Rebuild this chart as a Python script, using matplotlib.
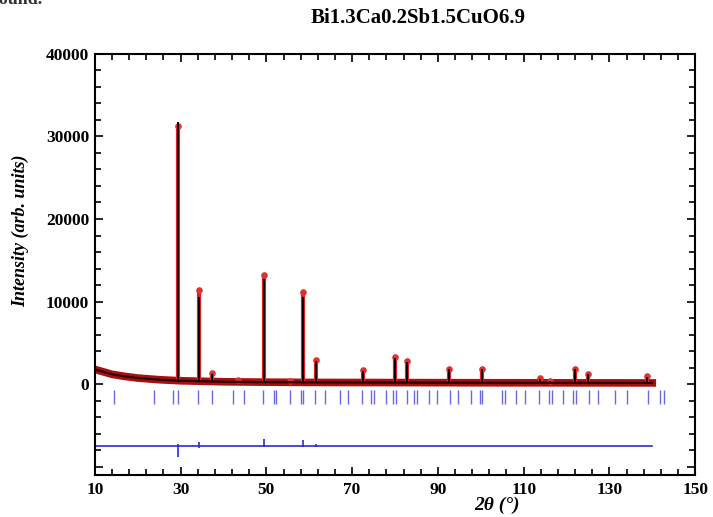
import matplotlib.pyplot as plt
from matplotlib.ticker import MultipleLocator, FixedLocator, FuncFormatter

# background (observed / calculated share it)
bg_x = [10, 12, 14, 17, 20, 25, 30, 40, 50, 60, 80, 100, 120, 140]
bg_y = [1800, 1500, 1200, 950, 750, 550, 420, 300, 250, 220, 200, 180, 170, 160]

# Bragg reflections: position, observed top, calculated top
peak_pos = [29.5, 34.3, 37.3, 43.5, 49.4, 55.5, 58.6, 61.5, 72.6, 80.0, 82.7,
            92.6, 100.3, 113.7, 116.2, 122.0, 125.0, 138.7]
peak_obs = [31200, 11400, 1400, 500, 13200, 350, 11200, 2900, 1700, 3300, 2800,
            1900, 1900, 700, 450, 1900, 1300, 1000]
peak_calc = [31700, 10600, 1300, 450, 12700, 300, 10500, 2800, 1600, 3200, 2700,
             1800, 1800, 650, 400, 1800, 1200, 900]

# Bragg tick marks
bragg_pos = [14.4, 23.8, 28.2, 29.4, 34.0, 37.3, 42.2, 44.8, 49.2, 51.8, 52.3,
             55.4, 58.0, 58.5, 61.4, 63.6, 67.1, 69.0, 72.3, 74.3, 75.1, 77.8,
             79.5, 80.3, 82.9, 84.4, 85.2, 87.9, 89.8, 92.8, 94.7, 97.8, 99.8,
             100.3, 105.0, 105.6, 108.3, 110.3, 113.5, 115.9, 116.5, 119.2,
             121.5, 122.1, 125.2, 127.4, 131.4, 134.0, 138.9, 141.8, 142.7]

# difference curve (obs - calc), drawn offset
diff_offset = -7500
diff_pos = [29.5, 34.3, 49.4, 58.6, 61.5]
diff_lo = [-1300, -200, -100, -100, -100]
diff_hi = [300, 500, 900, 800, 300]

x_ticks = [10, 30, 50, 70, 90, 110, 130, 150]

serif = 'Liberation Serif'

fig = plt.figure(figsize=(7.13, 5.17), dpi=100)
ax = fig.add_axes([0.133, 0.081, 0.842, 0.815])

# observed (red) and calculated (black)
ax.plot(bg_x, bg_y, color='#a81010', lw=5.5, zorder=2)
ax.vlines(peak_pos, 250, peak_obs, color='#e02020', lw=3, zorder=2)
ax.scatter(peak_pos, peak_obs, s=14, color='#e03030', zorder=3)
ax.plot(bg_x, bg_y, color='#300000', lw=1.6, zorder=4)
ax.vlines(peak_pos, 250, peak_calc, color='black', lw=1.4, zorder=4)

# Bragg positions
ax.vlines(bragg_pos, -700, -2400, color='#6a6ae0', lw=1.0)

# difference
ax.plot([10, 140], [diff_offset, diff_offset], color='#2a2ad8', lw=1.2)
ax.vlines(diff_pos, [diff_offset + v for v in diff_lo],
          [diff_offset + v for v in diff_hi], color='#2a2ad8', lw=1.2)

ax.set_xlim(10, 150)
ax.set_ylim(-11000, 40000)
ax.xaxis.set_major_locator(FixedLocator(x_ticks))
ax.xaxis.set_minor_locator(MultipleLocator(4, offset=2))
ax.yaxis.set_major_locator(MultipleLocator(10000))
ax.yaxis.set_minor_locator(MultipleLocator(2000))
ax.yaxis.set_major_formatter(FuncFormatter(lambda v, p: '' if v < 0 else '%d' % v))
ax.tick_params(which='both', direction='in', top=True, right=True, width=1.2)
ax.tick_params(which='major', length=6)
ax.tick_params(which='minor', length=4)
ax.tick_params(axis='x', pad=5)
ax.tick_params(axis='y', pad=4)
for lab in ax.get_xticklabels() + ax.get_yticklabels():
    lab.set_fontfamily(serif)
    lab.set_fontweight('bold')
    lab.set_fontsize(12.5)
for s in ax.spines.values():
    s.set_linewidth(1.5)

ax.set_xlabel('2θ (°)', family=serif, style='italic', weight='bold',
              fontsize=14)
ax.xaxis.set_label_coords(0.67, -0.052)
ax.set_ylabel('Intensity (arb. units)', family=serif, style='italic',
              weight='bold', fontsize=13)
ax.yaxis.set_label_coords(-0.11, 0.58)
fig.text(0.587, 0.965, 'Bi1.3Ca0.2Sb1.5CuO6.9', family=serif, weight='bold',
         fontsize=15, ha='center', va='center')
fig.text(-0.06, 1.0, 'compound.', family=serif, weight='bold', fontsize=13,
         ha='left', va='center', color='#333333')

fig.savefig('out.png', dpi=100)
